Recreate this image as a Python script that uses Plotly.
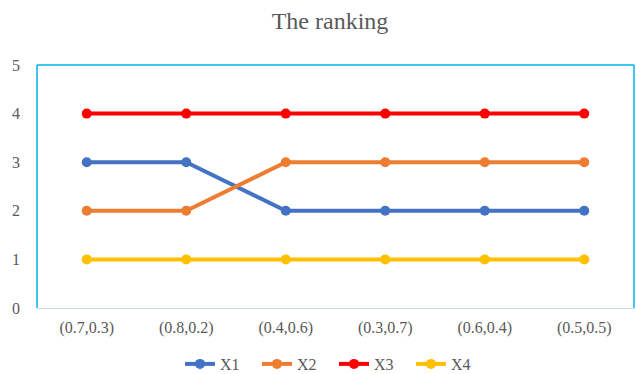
import plotly.graph_objects as go

categories = ["(0.7,0.3)", "(0.8,0.2)", "(0.4,0.6)", "(0.3,0.7)", "(0.6,0.4)", "(0.5,0.5)"]
x1 = [3, 3, 2, 2, 2, 2]
x2 = [2, 2, 3, 3, 3, 3]
x3 = [4, 4, 4, 4, 4, 4]
x4 = [1, 1, 1, 1, 1, 1]
series = [("X1", x1, "#4472C4"), ("X2", x2, "#ED7D31"), ("X3", x3, "#FF0000"), ("X4", x4, "#FFC000")]

fig = go.Figure()
for name, vals, col in series:
    fig.add_trace(go.Scatter(x=categories, y=vals, name=name, mode="lines+markers",
                             line=dict(color=col, width=4), marker=dict(color=col, size=10)))

font = dict(family="Liberation Serif", color="#595959", size=16)
fig.update_layout(
    width=636, height=374,
    margin=dict(l=37, r=2, t=65, b=66),
    paper_bgcolor="white", plot_bgcolor="white",
    title=dict(text="The ranking", x=330 / 636, xanchor="center", y=1 - 21 / 374, yanchor="middle",
               font=dict(family="Liberation Serif", color="#595959", size=24)),
    font=font,
    showlegend=True,
    legend=dict(orientation="h", xref="container", x=180 / 636, xanchor="left",
                y=1 - 364 / 374, yanchor="middle", yref="container", font=font,
                bgcolor="rgba(0,0,0,0)", entrywidth=32, entrywidthmode="pixels"),
    xaxis=dict(type="category", range=[-0.5, 5.5], showgrid=False, zeroline=False,
               showline=True, linecolor="#C9D9E2", linewidth=1, ticks="", ticklen=0,
               tickfont=font, ticklabelstandoff=5, automargin=False, fixedrange=True),
    yaxis=dict(range=[0, 5], dtick=1, showgrid=False, zeroline=False, showline=False,
               ticks="", tickfont=font, ticklabelstandoff=16, automargin=False, fixedrange=True),
    shapes=[
        dict(type="line", xref="paper", yref="paper", x0=0, x1=0, y0=0, y1=1,
             line=dict(color="#00B0F0", width=1.5)),
        dict(type="line", xref="paper", yref="paper", x0=0, x1=1, y0=1, y1=1,
             line=dict(color="#00B0F0", width=1.5)),
        dict(type="line", xref="paper", yref="paper", x0=1, x1=1, y0=0, y1=1,
             line=dict(color="#00B0F0", width=1.5)),
    ],
)
fig.write_html("out.html")
